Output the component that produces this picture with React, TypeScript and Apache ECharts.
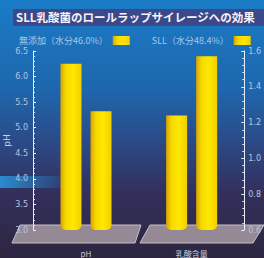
import React, { useEffect, useRef } from "react";
import * as echarts from "echarts";

const titleText = "SLL乳酸菌のロールラップサイレージへの効果";
const seriesNames = ["無添加（水分46.0%）", "SLL（水分48.4%）"];
const phCategory = ["pH"];
const lacticCategory = ["乳酸含量"];
const phValues = [6.25, 5.32]; // 無添加, SLL
const lacticValues = [1.24, 1.57]; // 無添加, SLL
const phTicks = { min: 3.0, max: 6.5, interval: 0.5 };
const lacticTicks = { min: 0.6, max: 1.6, interval: 0.2 };

const barColor = new echarts.graphic.LinearGradient(0, 0, 1, 0, [
  { offset: 0, color: "#d8a400" },
  { offset: 0.25, color: "#f6d800" },
  { offset: 0.6, color: "#ffe800" },
  { offset: 1, color: "#f2cf00" },
]);

export default function App() {
  const ref = useRef<HTMLDivElement>(null);
  useEffect(() => {
    document.body.style.margin = "0";
    const chart = echarts.init(ref.current!, null, { renderer: "svg" });
    const axisLabel = { color: "#b4c6e0", fontSize: 8, fontFamily: "DejaVu Sans" };
    const lineStyle = { color: "#e8eef8", width: 1 };
    const yCommon = {
      type: "value" as const,
      z: 10,
      axisLine: { show: true, lineStyle },
      axisTick: { show: true, length: 3, lineStyle, inside: true },
      minorTick: { show: true, splitNumber: 5, length: 2, lineStyle: { color: "#d8e2f2" } },
      splitLine: { show: false },
    };
    const xCommon = {
      type: "category" as const,
      axisLine: { show: false },
      axisTick: { show: false },
      axisLabel: { color: "#c8ccd8", fontSize: 8, margin: 19, fontFamily: "Noto Sans CJK JP" },
    };
    const bar = (name: string, xi: number, yi: number, v: number) => ({
      name,
      type: "bar" as const,
      xAxisIndex: xi,
      yAxisIndex: yi,
      data: [v],
      barWidth: 21,
      barGap: "43%",
      itemStyle: { color: barColor, borderRadius: [0, 0, 5, 5] },
      z: 5,
    });
    chart.setOption({
      animation: false,
      backgroundColor: new echarts.graphic.LinearGradient(0, 0, 0, 1, [
        { offset: 0, color: "#1a7cc6" },
        { offset: 0.35, color: "#1e66ad" },
        { offset: 0.55, color: "#2b4a86" },
        { offset: 0.75, color: "#332f5c" },
        { offset: 1, color: "#2c2640" },
      ]),
      graphic: {
        z: -5,
        elements: [
          {
            type: "rect",
            shape: { x: 0, y: 176, width: 70, height: 12 },
            style: {
              fill: new echarts.graphic.LinearGradient(0, 0, 1, 0, [
                { offset: 0, color: "rgba(40,150,220,0.9)" },
                { offset: 1, color: "rgba(40,150,220,0)" },
              ]),
            },
          },
          {
            type: "rect",
            shape: { x: 13, y: 9, width: 260, height: 17 },
            style: { fill: "#3b4889" },
          },
          {
            type: "text",
            x: 16,
            y: 11,
            style: {
              text: titleText,
              fill: "#f4f4fa",
              fontSize: 11.5,
              fontWeight: "bold",
              fontFamily: "Noto Sans CJK JP",
            },
          },
          {
            type: "polygon",
            shape: { points: [[20, 225], [141, 225], [135, 243], [12, 243]] },
            style: { fill: "#958996", stroke: "#c9bfc6", lineWidth: 1 },
          },
          {
            type: "polygon",
            shape: { points: [[150, 225], [264, 225], [253, 243], [140, 243]] },
            style: { fill: "#958996", stroke: "#c9bfc6", lineWidth: 1 },
          },
        ],
      },
      legend: {
        left: 14,
        top: 31,
        align: "right",
        itemWidth: 17,
        itemHeight: 9,
        itemGap: 22,
        icon: "rect",
        data: seriesNames,
        textStyle: { color: "#a9c6e8", fontSize: 9, fontFamily: "Noto Sans CJK JP" },
      },
      grid: [
        { left: 33, top: 51, width: 106, height: 179 },
        { left: 139, top: 51, width: 106, height: 179 },
      ],
      xAxis: [
        { ...xCommon, gridIndex: 0, data: phCategory },
        { ...xCommon, gridIndex: 1, data: lacticCategory },
      ],
      yAxis: [
        {
          ...yCommon,
          gridIndex: 0,
          position: "left",
          min: phTicks.min,
          max: phTicks.max,
          interval: phTicks.interval,
          name: "pH",
          nameLocation: "middle",
          nameRotate: 90,
          nameGap: 22,
          nameTextStyle: { color: "#c8d2e4", fontSize: 9, fontFamily: "DejaVu Sans" },
          axisLabel: { ...axisLabel, margin: 5, formatter: (v: number) => v.toFixed(1) },
        },
        {
          ...yCommon,
          gridIndex: 1,
          position: "right",
          min: lacticTicks.min,
          max: lacticTicks.max,
          interval: lacticTicks.interval,
          axisLabel: { ...axisLabel, margin: 4, formatter: (v: number) => v.toFixed(1) },
        },
      ],
      series: [
        bar(seriesNames[0], 0, 0, phValues[0]),
        bar(seriesNames[1], 0, 0, phValues[1]),
        bar(seriesNames[0], 1, 1, lacticValues[0]),
        bar(seriesNames[1], 1, 1, lacticValues[1]),
      ],
    });
    return () => chart.dispose();
  }, []);
  return <div ref={ref} style={{ width: 264, height: 258 }} />;
}
